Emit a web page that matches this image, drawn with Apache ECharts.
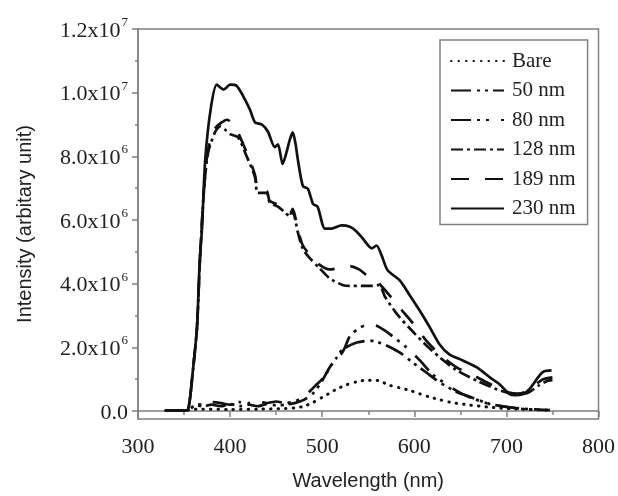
<!DOCTYPE html>
<html>
<head>
<meta charset="utf-8">
<script src="https://cdn.jsdelivr.net/npm/echarts@6/dist/echarts.min.js"></script>
<style>
html,body{margin:0;padding:0;background:#fff;}
#chart{width:618px;height:496px;}
</style>
</head>
<body>
<div id="chart"></div>
<script>
// Series names (legend order)
const seriesNames = ['Bare', '50 nm', '80 nm', '128 nm', '189 nm', '230 nm'];

// [wavelength (nm), intensity (x10^6)]
const bare = [[330,0.02],[353,0.02],[358,0.05],[370,0.06],[400,0.05],[430,0.06],[460,0.08],[470,0.1],[479,0.14],[490,0.27],[500.6,0.44],[508,0.56],[515.8,0.69],[526,0.82],[537.5,0.92],[548,0.97],[555,0.97],[562,0.95],[573,0.81],[584,0.73],[595,0.65],[606,0.54],[616.7,0.44],[627,0.36],[638.4,0.28],[660,0.19],[681.8,0.12],[703.5,0.07],[725,0.05],[747,0.03]];

const nm50 = [[330,0.02],[353,0.02],[358,0.1],[362,0.18],[370,0.15],[380,0.2],[390,0.15],[400,0.22],[410,0.15],[420,0.2],[430,0.15],[440,0.22],[450,0.18],[460,0.2],[470,0.25],[480,0.35],[490,0.55],[500,0.95],[508,1.37],[515.8,1.68],[522,1.93],[537.5,2.15],[551.6,2.21],[560,2.17],[570,2.06],[584,1.84],[598,1.53],[613,1.21],[627.5,0.9],[646,0.6],[663,0.42],[682,0.22],[703,0.12],[720,0.06],[747,0.03]];

const nm80 = [[330,0.02],[353,0.02],[358,0.1],[362,0.22],[370,0.2],[380,0.28],[390,0.25],[400,0.2],[410,0.28],[420,0.25],[430,0.3],[440,0.25],[450,0.3],[460,0.25],[470,0.3],[480,0.45],[489,0.69],[494,0.84],[500,1.0],[505,1.2],[510,1.45],[519,1.72],[524,1.95],[530,2.35],[540,2.6],[549.5,2.71],[559,2.68],[567,2.55],[575.5,2.37],[591.8,1.99],[606,1.59],[620,1.15],[635,0.84],[652.5,0.53],[665,0.38],[682,0.22],[703,0.12],[720,0.07],[747,0.03]];

const nm128 = [[330,0.02],[353,0.02],[356,0.3],[359,1.1],[364,2.6],[367,4.6],[371.5,6.9],[376,8.1],[383.5,8.75],[389,8.94],[394,8.85],[400,8.7],[408.5,8.6],[418,8.0],[427,7.35],[430,6.85],[440,6.85],[443,6.55],[452,6.42],[459,6.25],[465,6.12],[468,6.27],[473.5,5.62],[479,5.1],[486.5,4.8],[497,4.49],[508,4.17],[522,3.96],[530,3.93],[545,3.93],[555,3.93],[562,3.96],[568,3.6],[581,3.05],[595,2.6],[610,2.15],[627,1.7],[645,1.3],[668,0.95],[690,0.68],[705,0.55],[715,0.52],[725,0.6],[735,0.8],[745,0.95],[750,0.97]];

const nm189 = [[330,0.02],[353,0.02],[356,0.3],[359,1.1],[364,2.6],[367,4.6],[371.5,6.9],[376,8.2],[383,8.85],[390,9.05],[397,9.15],[403,9.0],[408.5,8.75],[418,8.12],[427,7.42],[430,6.95],[436,6.92],[440,6.9],[443,6.6],[452,6.48],[459,6.3],[465,6.2],[468,6.35],[473.5,5.7],[479,5.2],[487,4.9],[497,4.6],[508,4.45],[520,4.5],[530,4.55],[540,4.45],[548,4.27],[555,4.15],[562,4.0],[575.5,3.55],[587,3.15],[602.5,2.62],[613,2.21],[627.5,1.78],[646,1.37],[668,1.06],[689,0.75],[703,0.58],[712,0.55],[720,0.6],[730,0.8],[740,1.0],[750,1.06]];

const nm230 = [[330,0.02],[353,0.02],[356,0.3],[359,1.1],[364,2.6],[367,4.7],[369.5,5.75],[373,7.9],[379,9.5],[385.5,10.25],[393,10.1],[400,10.25],[407,10.22],[414,9.9],[421.5,9.47],[427,9.07],[434.5,9.0],[441,8.78],[448.5,8.29],[452,8.38],[457,7.76],[461,8.1],[465,8.54],[468,8.75],[471,8.4],[473.5,7.91],[479,7.07],[484.5,6.98],[490,6.51],[495,6.42],[503,5.73],[510,5.73],[521,5.83],[530,5.79],[537,5.65],[544,5.42],[554,5.11],[559,5.2],[564.5,4.89],[571,4.42],[584,4.11],[595,3.64],[606,3.15],[617,2.62],[627.5,2.09],[638,1.78],[652.5,1.59],[668,1.37],[682,1.06],[692.5,0.84],[703.5,0.53],[710,0.5],[717.5,0.53],[725,0.69],[736,1.12],[741,1.25],[749,1.28]];

// Tick values
const xTicks = [300, 400, 500, 600, 700, 800];
const yMajorTicks = [0, 2e6, 4e6, 6e6, 8e6, 1e7, 1.2e7];
const yMinorTicks = [1e6, 3e6, 5e6, 7e6, 9e6, 1.1e7];
const yTickLabels = ['0.0', '2.0x10|6', '4.0x10|6', '6.0x10|6', '8.0x10|6', '1.0x10|7', '1.2x10|7'];

const dataSets = [bare, nm50, nm80, nm128, nm189, nm230];
const dashes = [[0.5, 7], [20, 6, 3, 5, 3, 5], [20, 6, 3, 6, 3, 12], [12, 4, 3, 4], [18, 16], 'solid'];

const serif = 'Liberation Serif';
const sans = 'Liberation Sans';
const axisColor = '#808080';

function yLabel(v) {
  const i = yMajorTicks.indexOf(v);
  const s = i >= 0 ? yTickLabels[i] : '';
  if (s.indexOf('|') < 0) return '{m|' + s + '}';
  const parts = s.split('|');
  return '{m|' + parts[0] + '}{e|' + parts[1] + '}';
}

const chart = echarts.init(document.getElementById('chart'), null, {renderer: 'canvas'});
chart.setOption({
  animation: false,
  backgroundColor: '#fff',
  grid: {left: 138, right: 19, top: 29, bottom: 74, show: true, borderColor: axisColor, borderWidth: 1.5, backgroundColor: 'transparent'},
  legend: {
    orient: 'vertical', left: 440, top: 40,
    padding: [9, 12, 4, 10],
    itemWidth: 53, itemHeight: 14, itemGap: 5.5,
    borderColor: axisColor, borderWidth: 1.5,
    itemStyle: {opacity: 0},
    textStyle: {fontFamily: serif, fontSize: 21, color: '#222', lineHeight: 24, padding: [0,0,0,3]},
    data: seriesNames
  },
  xAxis: {
    type: 'value', min: 300, max: 800, interval: 100,
    name: 'Wavelength (nm)', nameLocation: 'middle', nameGap: 52,
    nameTextStyle: {fontFamily: sans, fontSize: 20, color: '#222'},
    axisLine: {lineStyle: {color: axisColor, width: 1.5}},
    axisTick: {show: true, inside: false, length: 6, lineStyle: {color: axisColor, width: 1.5}},
    minorTick: {show: true, splitNumber: 2, length: 4, lineStyle: {color: axisColor, width: 1.5}},
    axisLabel: {margin: 17, fontFamily: serif, fontSize: 22, color: '#222', formatter: v => xTicks.indexOf(v) >= 0 ? String(v) : ''},
    splitLine: {show: false}
  },
  yAxis: [{
    type: 'value', min: -2.5e5, max: 1.2e7,
    name: 'Intensity (arbitary unit)', nameLocation: 'middle', nameGap: 103,
    nameTextStyle: {fontFamily: sans, fontSize: 20, color: '#222'},
    axisLine: {show: true, lineStyle: {color: axisColor, width: 1.5}},
    axisTick: {show: true, inside: false, length: 6, customValues: yMajorTicks, lineStyle: {color: axisColor, width: 1.5}},
    axisLabel: {
      margin: 10, customValues: yMajorTicks, formatter: yLabel,
      rich: {
        m: {fontFamily: serif, fontSize: 22, color: '#222', lineHeight: 26, verticalAlign: 'bottom'},
        e: {fontFamily: serif, fontSize: 13, color: '#222', lineHeight: 26, verticalAlign: 'top', padding: [0, 0, 8, 1]}
      }
    },
    splitLine: {show: false}
  }, {
    type: 'value', min: -2.5e5, max: 1.2e7, position: 'left',
    axisLine: {show: false},
    axisTick: {show: true, inside: false, length: 3, customValues: yMinorTicks, lineStyle: {color: axisColor, width: 1.5}},
    axisLabel: {show: false},
    splitLine: {show: false}
  }],
  series: dataSets.map((d, i) => ({
    name: seriesNames[i],
    type: 'line',
    yAxisIndex: 0,
    symbol: 'none',
    smooth: 0.25,
    data: d.map(p => [p[0], p[1] * 1e6]),
    lineStyle: {color: '#111', width: i === 0 ? 3 : 2.7, type: dashes[i], cap: i === 0 ? 'round' : 'butt'},
    itemStyle: {color: '#111'}
  }))
});
</script>
</body>
</html>
